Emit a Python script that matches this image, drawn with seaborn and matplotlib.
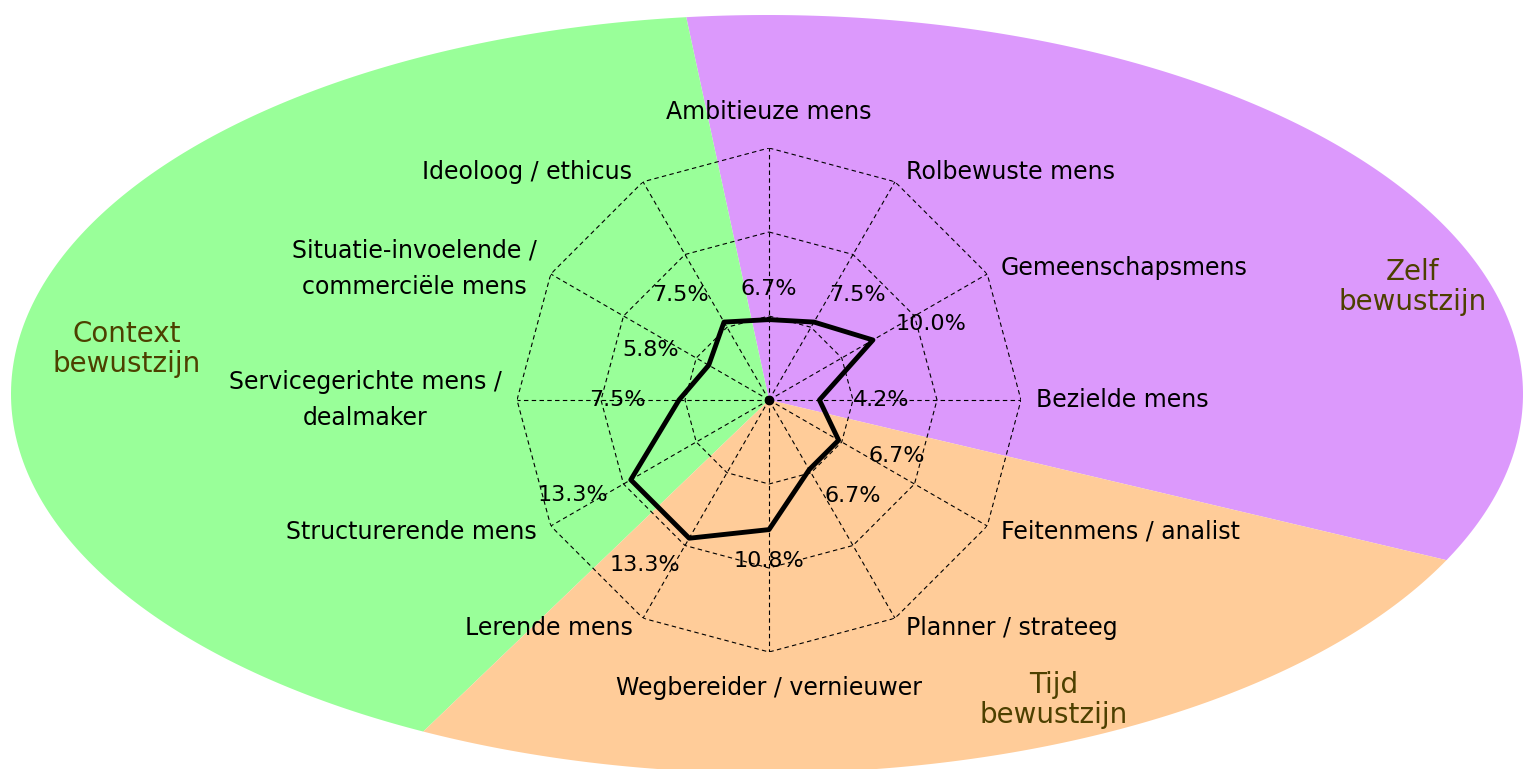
import numpy as np
import matplotlib
matplotlib.use("Agg")
import matplotlib.pyplot as plt
import seaborn as sns

# Radar data (clockwise from the top)
categories = [
    "Ambitieuze mens", "Rolbewuste mens", "Gemeenschapsmens", "Bezielde mens",
    "Feitenmens / analist", "Planner / strateeg", "Wegbereider / vernieuwer",
    "Lerende mens", "Structurerende mens", "Servicegerichte mens /\ndealmaker",
    "Situatie-invoelende /\ncommerciële mens", "Ideoloog / ethicus",
]
values = [6.7, 7.5, 10.0, 4.2, 6.7, 6.7, 10.8, 13.3, 13.3, 7.5, 5.8, 7.5]
ring_levels = [7, 14, 21]

# Background regions: name, colour, boundary directions (degrees, ccw from east)
region_names = ["Zelf\nbewustzijn", "Context\nbewustzijn", "Tijd\nbewustzijn"]
region_colors = ["#dc99fc", "#99ff99", "#ffcc99"]
region_start = [-13.3, 102.2, 223.8]
region_end = [102.2, 223.8, 346.7]

# Layout (pixels)
W, H = 1523, 769
ELL_CX, ELL_CY, ELL_A, ELL_B = 767, 394, 756, 379
RADAR_CX, RADAR_CY, RADAR_R = 769, 400, 252
region_label_xy = [(1413, 287), (127, 349), (1054, 700)]

sns.set_theme(style="white")
plt.rcParams["font.family"] = ["DejaVu Sans"]
plt.rcParams["text.color"] = "black"


def ray_to_ellipse(phi_deg):
    # where a ray from the radar centre leaves the background ellipse
    phi = np.deg2rad(phi_deg)
    dx, dy = np.cos(phi), -np.sin(phi)
    px, py = RADAR_CX - ELL_CX, RADAR_CY - ELL_CY
    A = dx ** 2 / ELL_A ** 2 + dy ** 2 / ELL_B ** 2
    B = 2 * (px * dx / ELL_A ** 2 + py * dy / ELL_B ** 2)
    C = px ** 2 / ELL_A ** 2 + py ** 2 / ELL_B ** 2 - 1
    s = (-B + np.sqrt(B ** 2 - 4 * A * C)) / (2 * A)
    return RADAR_CX + s * dx, RADAR_CY + s * dy


fig = plt.figure(figsize=(W / 100, H / 100), dpi=100)

# background ellipse split in three sectors
bg = fig.add_axes([0, 0, 1, 1])
bg.set_xlim(0, W)
bg.set_ylim(H, 0)
bg.axis("off")
for name, col, a0, a1, (lx, ly) in zip(region_names, region_colors,
                                        region_start, region_end, region_label_xy):
    angles = np.linspace(a0, a1, 300)
    xs, ys = zip(*[ray_to_ellipse(a) for a in angles])
    bg.fill([RADAR_CX, *xs], [RADAR_CY, *ys], color=col, lw=0)
    bg.text(lx, ly, name, color="#4d4000", fontsize=20, ha="center", va="center",
            linespacing=1.1)

# radar chart
ax = fig.add_axes([(RADAR_CX - RADAR_R) / W, (H - RADAR_CY - RADAR_R) / H,
                   2 * RADAR_R / W, 2 * RADAR_R / H], projection="polar")
ax.set_theta_zero_location("N")
ax.set_theta_direction(-1)
ax.patch.set_alpha(0)
ax.grid(False)
ax.spines["polar"].set_visible(False)
ax.set_xticks([])
ax.set_yticks([])

n = len(categories)
theta = np.linspace(0, 2 * np.pi, n, endpoint=False)
theta_closed = np.r_[theta, 2 * np.pi]

dash = (0, (4, 3))
for lvl in ring_levels:
    ax.plot(theta_closed, [lvl] * (n + 1), color="black", lw=0.8, ls=dash)
for t in theta:
    ax.plot([t, t], [0, ring_levels[-1]], color="black", lw=0.8, ls=dash)

sns.lineplot(x=theta_closed, y=np.r_[values, values[0]], sort=False, ax=ax,
             color="black", lw=3.5, estimator=None)
ax.plot([0], [0], marker="o", color="black", ms=6)
ax.set_ylim(0, ring_levels[-1])

for t, cat, v in zip(theta, categories, values):
    s, c = np.sin(t), np.cos(t)
    if abs(s) < 0.1:
        ha, dx, dy = "center", 0, 36 * c
    else:
        ha = "left" if s > 0 else "right"
        dx, dy = np.sign(s) * (6 + 9 * abs(s)), 11 * c
    ax.annotate(cat, (t, ring_levels[-1]), xytext=(dx, dy), textcoords="offset pixels",
                ha=ha, va="center", fontsize=17, multialignment="center",
                linespacing=1.65, annotation_clip=False)
    px = 62 * np.sign(s) * np.sqrt(abs(s)) if abs(s) > 0.1 else 0
    ax.annotate(f"{v:.1f}%", (t, v), xytext=(px, 31 * c), textcoords="offset pixels",
                ha="center", va="center", fontsize=16, annotation_clip=False)

fig.savefig("out.png", dpi=100)
